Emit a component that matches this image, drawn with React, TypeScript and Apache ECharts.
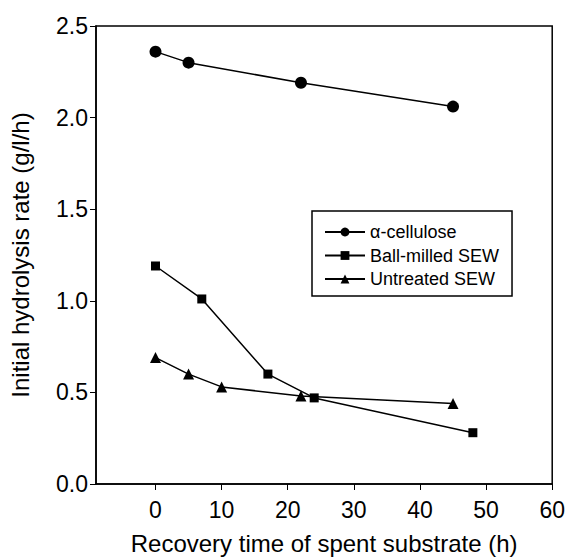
import React, { useEffect, useRef } from "react";
import * as echarts from "echarts";

const cellulose: [number, number][] = [
  [0, 2.36],
  [5, 2.3],
  [22, 2.19],
  [45, 2.06],
];
const ballMilled: [number, number][] = [
  [0, 1.19],
  [7, 1.01],
  [17, 0.6],
  [24, 0.47],
  [48, 0.28],
];
const untreated: [number, number][] = [
  [0, 0.69],
  [5, 0.6],
  [10, 0.53],
  [22, 0.48],
  [45, 0.44],
];
const seriesNames = ["α-cellulose", "Ball-milled SEW", "Untreated SEW"];
const xTicks = [0, 10, 20, 30, 40, 50, 60];

const FONT = "'Liberation Sans', Arial, sans-serif";

export default function App() {
  const ref = useRef<HTMLDivElement>(null);
  useEffect(() => {
    if (!ref.current) return;
    const chart = echarts.init(ref.current, undefined, { renderer: "svg" });
    const mk = (name: string, data: [number, number][], symbol: string, size: number) => ({
      name,
      type: "line",
      data,
      symbol,
      symbolSize: size,
      lineStyle: { color: "#000", width: 1.5 },
      itemStyle: { color: "#000" },
    });
    chart.setOption({
      animation: false,
      textStyle: { fontFamily: FONT },
      grid: {
        left: 95,
        right: 11,
        top: 26,
        bottom: 72,
        show: true,
        borderColor: "#000",
        borderWidth: 1.5,
      },
      legend: {
        orient: "vertical",
        left: 312,
        top: 211,
        data: seriesNames,
        itemWidth: 40,
        itemHeight: 11,
        itemGap: 5.5,
        padding: [12, 13, 8, 12],
        borderColor: "#000",
        borderWidth: 1.5,
        textStyle: { fontFamily: FONT, fontSize: 18, color: "#000" },
      },
      xAxis: {
        type: "value",
        min: -9,
        max: 60,
        name: "Recovery time of spent substrate (h)",
        nameLocation: "middle",
        nameGap: 47,
        nameTextStyle: { fontFamily: FONT, fontSize: 24, color: "#000" },
        splitLine: { show: false },
        axisLine: { onZero: false, lineStyle: { color: "#000", width: 1.5 } },
        axisTick: { show: true, length: 6, inside: false, customValues: xTicks, lineStyle: { color: "#000" } },
        axisLabel: {
          customValues: xTicks,
          margin: 14,
          fontFamily: FONT,
          fontSize: 23,
          color: "#000",
        },
      },
      yAxis: {
        type: "value",
        min: 0,
        max: 2.5,
        interval: 0.5,
        name: "Initial hydrolysis rate (g/l/h)",
        nameLocation: "middle",
        nameGap: 64,
        nameTextStyle: { fontFamily: FONT, fontSize: 24, color: "#000" },
        splitLine: { show: false },
        axisLine: { onZero: false, lineStyle: { color: "#000", width: 1.5 } },
        axisTick: { show: true, length: 6, lineStyle: { color: "#000" } },
        axisLabel: {
          margin: 8,
          fontFamily: FONT,
          fontSize: 23,
          color: "#000",
          formatter: (v: number) => v.toFixed(1),
        },
      },
      series: [
        mk(seriesNames[0], cellulose, "circle", 12),
        mk(seriesNames[1], ballMilled, "rect", 9),
        mk(seriesNames[2], untreated, "triangle", 11),
      ],
    });
    return () => chart.dispose();
  }, []);
  return (
    <div
      ref={ref}
      style={{ position: "fixed", left: 0, top: 0, width: 568, height: 560, background: "#fff" }}
    />
  );
}
